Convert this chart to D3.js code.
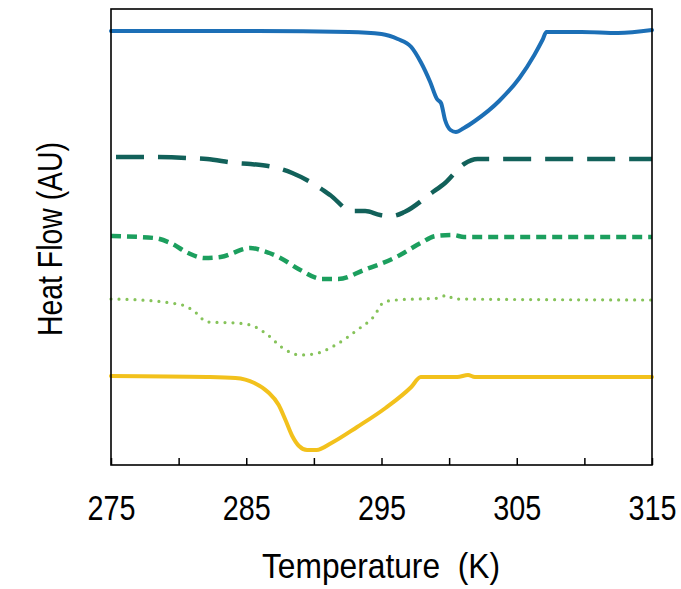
<!DOCTYPE html>
<html><head><meta charset="utf-8">
<script src="https://cdn.jsdelivr.net/npm/d3@7"></script>
<style>html,body{margin:0;padding:0;background:#fff;}svg{display:block;}</style>
</head><body>
<script>
// Temperature (K) ticks
const tickValues = [275, 280, 285, 290, 295, 300, 305, 310, 315];
const tickLabels = ["275", "285", "295", "305", "315"];

// Series: [temperature K, heat flow AU]
const seriesBlue = [[275,43.4],[285.8,43.4],[292.6,43.3],[295.0,43.1],[296.2,42.6],[297.2,41.8],[297.9,40.3],[298.6,38.3],[299.1,36.6],[299.4,36.2],[299.7,34.5],[300.1,33.5],[300.5,33.3],[301.1,33.7],[301.9,34.4],[303.7,36.4],[305.2,38.7],[306.3,41.0],[306.9,42.5],[307.2,43.3],[309.8,43.3],[312.5,43.2],[315,43.5]];
const seriesDarkDash = [[275,30.8],[277.6,30.8],[280.7,30.7],[282.1,30.6],[284.2,30.2],[285.3,30.1],[287.3,29.7],[288.4,29.2],[290.1,28.0],[291.2,27.0],[292.8,25.4],[293.8,25.4],[294.9,25.0],[295.8,24.9],[296.7,25.3],[298.7,27.2],[299.7,28.2],[301.1,30.1],[302.1,30.6],[304.3,30.6],[313.8,30.6],[315,30.6]];
const seriesGreenDash = [[275,22.9],[278.2,22.7],[279.4,22.2],[280.7,21.2],[281.9,20.7],[283.1,20.8],[285.3,21.7],[286.3,21.4],[287.4,20.8],[289.0,19.5],[290.6,18.6],[291.8,18.6],[293.7,19.5],[296.1,20.8],[297.9,22.2],[299.0,22.9],[300.3,23.0],[301.1,22.8],[315,22.8]];
const seriesDotted = [[275,16.6],[278.2,16.4],[279.4,16.2],[280.5,15.9],[281.3,15.2],[282.1,14.3],[284.2,14.2],[285.3,14.0],[286.6,13.0],[287.6,11.8],[289.0,11.0],[290.0,11.1],[291.6,12.0],[293.2,13.5],[294.4,14.8],[295.2,16.3],[296.1,16.5],[299.3,16.7],[299.8,17.0],[300.4,16.6],[315,16.5]];
const seriesYellow = [[275,8.9],[282.1,8.8],[284.2,8.7],[285.6,8.2],[286.6,7.3],[287.4,6.0],[287.9,4.5],[288.4,2.9],[288.9,1.9],[289.5,1.5],[290.2,1.5],[291.3,2.2],[293.2,3.8],[295.3,5.7],[297.2,7.8],[297.9,8.8],[300.6,8.8],[301.4,9.0],[301.9,8.8],[315,8.8]];

const W = 681, H = 589;
const L = 111, R = 652, T = 9, B = 465;

const svg = d3.select("body").append("svg").attr("width", W).attr("height", H);
const x = d3.scaleLinear().domain([275, 315]).range([L, R]);
const y = d3.scaleLinear().domain([0, 45.6]).range([B, T]);

const line = d3.line().x(d => x(d[0])).y(d => y(d[1])).curve(d3.curveMonotoneX);

const styles = [
  {data: seriesBlue, color: "#1c6fb6", width: 4, dash: null, cap: "round", offset: 0},
  {data: seriesDarkDash, color: "#12615a", width: 4.5, dash: "28,14", cap: "butt", offset: -5},
  {data: seriesGreenDash, color: "#1c9f5e", width: 4.5, dash: "10,6", cap: "butt", offset: 0},
  {data: seriesDotted, color: "#86c35a", width: 3.2, dash: "0,8", cap: "round", offset: 0},
  {data: seriesYellow, color: "#f2c11c", width: 4, dash: null, cap: "round", offset: 0}
];

const g = svg.append("g");
styles.forEach(s => {
  g.append("path").datum(s.data)
    .attr("d", line)
    .attr("fill", "none")
    .attr("stroke", s.color)
    .attr("stroke-width", s.width)
    .attr("stroke-linecap", s.cap)
    .attr("stroke-linejoin", "round")
    .attr("stroke-dasharray", s.dash)
    .attr("stroke-dashoffset", s.offset);
});

// frame
svg.append("rect").attr("x", L).attr("y", T).attr("width", R - L).attr("height", B - T)
  .attr("fill", "none").attr("stroke", "#000").attr("stroke-width", 1.6);

// x axis
const ax = svg.append("g").attr("transform", `translate(0,${B})`)
  .call(d3.axisBottom(x).tickValues(tickValues).tickSizeInner(-7).tickSizeOuter(0)
    .tickFormat(d => tickLabels.includes(String(d)) ? String(d) : ""));
ax.select(".domain").remove();
ax.selectAll(".tick line").attr("stroke", "#000").attr("stroke-width", 1.5);
ax.selectAll(".tick text")
  .attr("y", 55).attr("dy", 0)
  .attr("font-family", "Liberation Sans, Arial, sans-serif")
  .attr("font-size", 35).attr("fill", "#000")
  .each(function(d) { if (this.textContent) { d3.select(this).attr("textLength", 48).attr("lengthAdjust", "spacingAndGlyphs"); } });

// axis titles
svg.append("text").attr("x", 381).attr("y", 578).attr("text-anchor", "middle")
  .attr("font-family", "Liberation Sans, Arial, sans-serif").attr("font-size", 35)
  .attr("textLength", 238).attr("lengthAdjust", "spacingAndGlyphs")
  .style("white-space", "pre")
  .text("Temperature  (K)");

svg.append("text").attr("transform", "translate(62,239) rotate(-90)").attr("text-anchor", "middle")
  .attr("font-family", "Liberation Sans, Arial, sans-serif").attr("font-size", 35)
  .attr("textLength", 194).attr("lengthAdjust", "spacingAndGlyphs")
  .text("Heat Flow (AU)");
</script>
</body></html>
